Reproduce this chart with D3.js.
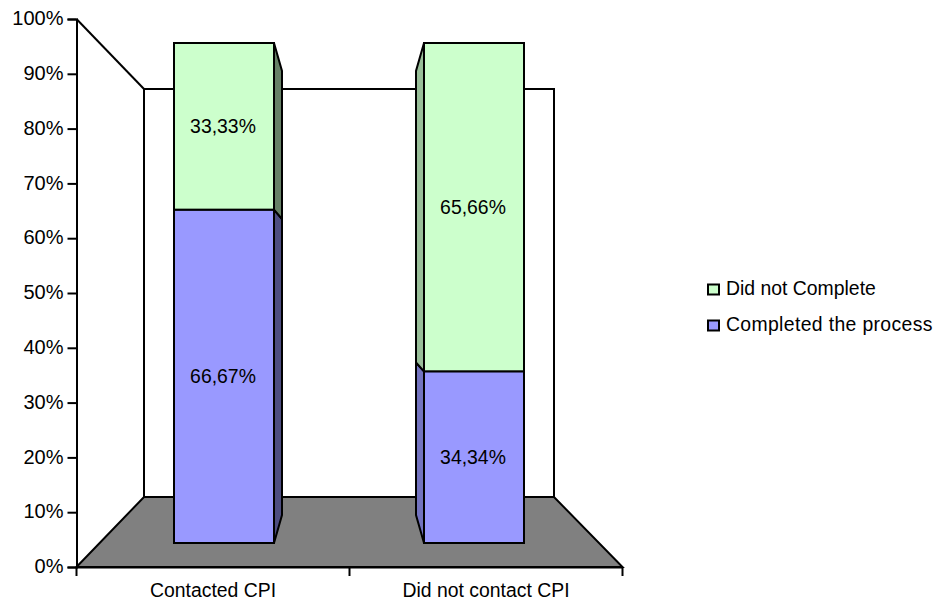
<!DOCTYPE html>
<html>
<head>
<meta charset="utf-8">
<style>
  html, body { margin: 0; padding: 0; background: #fff; }
  svg { display: block; }
  text { font-family: "Liberation Sans", Arial, sans-serif; fill: #000; }
</style>
<script src="https://cdn.jsdelivr.net/npm/d3@7"></script>
</head>
<body>
<svg id="chart" width="935" height="603"></svg>
<script>
const categories = ["Contacted CPI", "Did not contact CPI"];
const seriesNames = ["Completed the process", "Did not Complete"];
const completed = [66.67, 34.34];
const notCompleted = [33.33, 65.66];
const tickValues = [0, 10, 20, 30, 40, 50, 60, 70, 80, 90, 100];

const fills = { "Completed the process": "#9999FF", "Did not Complete": "#CCFFCC" };
const sideRight = { "Completed the process": "#4D4D80", "Did not Complete": "#668066" };
const sideLeft = { "Completed the process": "#7373BF", "Did not Complete": "#99BF99" };
const legendTracking = { "Completed the process": 0.35, "Did not Complete": 0 };

const svg = d3.select("#chart");
const fontSize = 19.4;

// Perspective planes: the axis sits on the front of the box, the wall at its back.
const yAxisScale = d3.scaleLinear().domain([0, 100]).range([567, 19]);
const yBarFront = d3.scaleLinear().domain([0, 100]).range([543, 43]);
const yBarBack = d3.scaleLinear().domain([0, 100]).range([515, 71]);
const xAxisScale = d3.scaleBand().domain(categories).range([76.5, 622.5]);
const xBar = d3.scaleBand().domain(categories).range([174, 524]).paddingInner(0.6).paddingOuter(0);

const box = { left: 76.5, right: 622.5, backLeft: 144, backRight: 554,
              backTop: 89, backBottom: 497 };
const line = d3.line();

const room = svg.append("g")
  .attr("stroke", "#000").attr("stroke-width", 2).attr("stroke-linejoin", "miter");

// Back wall and its slanted left edge
room.append("path")
  .attr("fill", "#fff")
  .attr("d", line([[box.backLeft, box.backBottom], [box.backLeft, box.backTop],
                   [box.backRight, box.backTop], [box.backRight, box.backBottom]]) + "Z");
room.append("path")
  .attr("fill", "none")
  .attr("d", line([[box.left, yAxisScale(100)], [box.backLeft, box.backTop]]));

// Floor
room.append("path")
  .attr("fill", "#808080")
  .attr("d", line([[box.left, yAxisScale(0)], [box.backLeft, box.backBottom],
                   [box.backRight, box.backBottom], [box.right, yAxisScale(0)]]) + "Z");

// Stacked columns
const rows = categories.map((c, i) => ({
  category: c,
  "Completed the process": completed[i],
  "Did not Complete": notCompleted[i]
}));
const stacked = d3.stack().keys(seriesNames)(rows);
const depth = 8;

const barsLayer = svg.append("g").attr("stroke", "#000").attr("stroke-width", 2);

stacked.forEach(series => {
  series.forEach(d => {
    const cat = d.data.category;
    const x0 = xBar(cat), x1 = x0 + xBar.bandwidth();
    const onLeftHalf = (x0 + x1) / 2 < (box.left + box.right) / 2;
    const edge = onLeftHalf ? x1 : x0;
    const backEdge = onLeftHalf ? x1 + depth : x0 - depth;
    barsLayer.append("path")
      .attr("fill", (onLeftHalf ? sideRight : sideLeft)[series.key])
      .attr("d", line([[edge, yBarFront(d[0])], [edge, yBarFront(d[1])],
                       [backEdge, yBarBack(d[1])], [backEdge, yBarBack(d[0])]]) + "Z");
  });
});
stacked.forEach(series => {
  barsLayer.selectAll(null)
    .data(series)
    .join("rect")
    .attr("x", d => xBar(d.data.category))
    .attr("width", xBar.bandwidth())
    .attr("y", d => yBarFront(d[1]))
    .attr("height", d => yBarFront(d[0]) - yBarFront(d[1]))
    .attr("fill", fills[series.key]);
});

// Value labels, written with a decimal comma
const decimalComma = v => v.toFixed(2).replace(".", ",") + "%";
stacked.forEach(series => {
  svg.append("g").selectAll("text")
    .data(series)
    .join("text")
    .attr("x", d => xBar(d.data.category) + xBar.bandwidth() / 2 - 1)
    .attr("y", d => (yBarFront(d[0]) + yBarFront(d[1])) / 2 + 6.5)
    .attr("text-anchor", "middle")
    .attr("font-size", fontSize)
    .text(d => decimalComma(d[1] - d[0]));
});

// Axes
const yAxis = d3.axisLeft(yAxisScale)
  .tickValues(tickValues).tickFormat(d => d + "%").tickSize(9).tickPadding(4);
const yG = svg.append("g").attr("transform", "translate(76.5,0)").call(yAxis);

const xAxis = d3.axisBottom(xAxisScale).tickSize(0).tickPadding(16.5);
const xG = svg.append("g").attr("transform", "translate(0,567)").call(xAxis);
xG.selectAll(".tick line").remove();

// Category separators below the baseline
xG.selectAll(".boundary")
  .data([...categories.map(c => xAxisScale(c)), xAxisScale.range()[1]])
  .join("line")
  .attr("class", "boundary")
  .attr("x1", d => d).attr("x2", d => d)
  .attr("y1", 0).attr("y2", 9)
  .attr("stroke", "#000").attr("stroke-width", 2);

[yG, xG].forEach(g => {
  g.selectAll(".domain").attr("stroke", "#000").attr("stroke-width", 2);
  g.selectAll(".tick line").attr("stroke", "#000").attr("stroke-width", 2);
  g.selectAll("text").attr("font-size", fontSize).attr("font-family", null).attr("fill", "#000");
});
yG.selectAll("text").attr("font-size", 20).attr("dy", "0.28em");
yG.attr("font-family", null);
xG.attr("font-family", null);

// Legend, top entry first
const legendY = d3.scalePoint().domain(seriesNames.slice().reverse()).range([289.5, 325.5]);
const legend = svg.append("g").selectAll("g")
  .data(seriesNames.slice().reverse())
  .join("g")
  .attr("transform", d => `translate(708,${legendY(d)})`);
legend.append("rect")
  .attr("x", 0).attr("y", -5).attr("width", 11).attr("height", 10)
  .attr("fill", d => fills[d]).attr("stroke", "#000").attr("stroke-width", 2);
legend.append("text")
  .attr("x", 18).attr("y", 5.5)
  .attr("font-size", fontSize)
  .attr("letter-spacing", d => legendTracking[d])
  .text(d => d);
</script>
</body>
</html>
